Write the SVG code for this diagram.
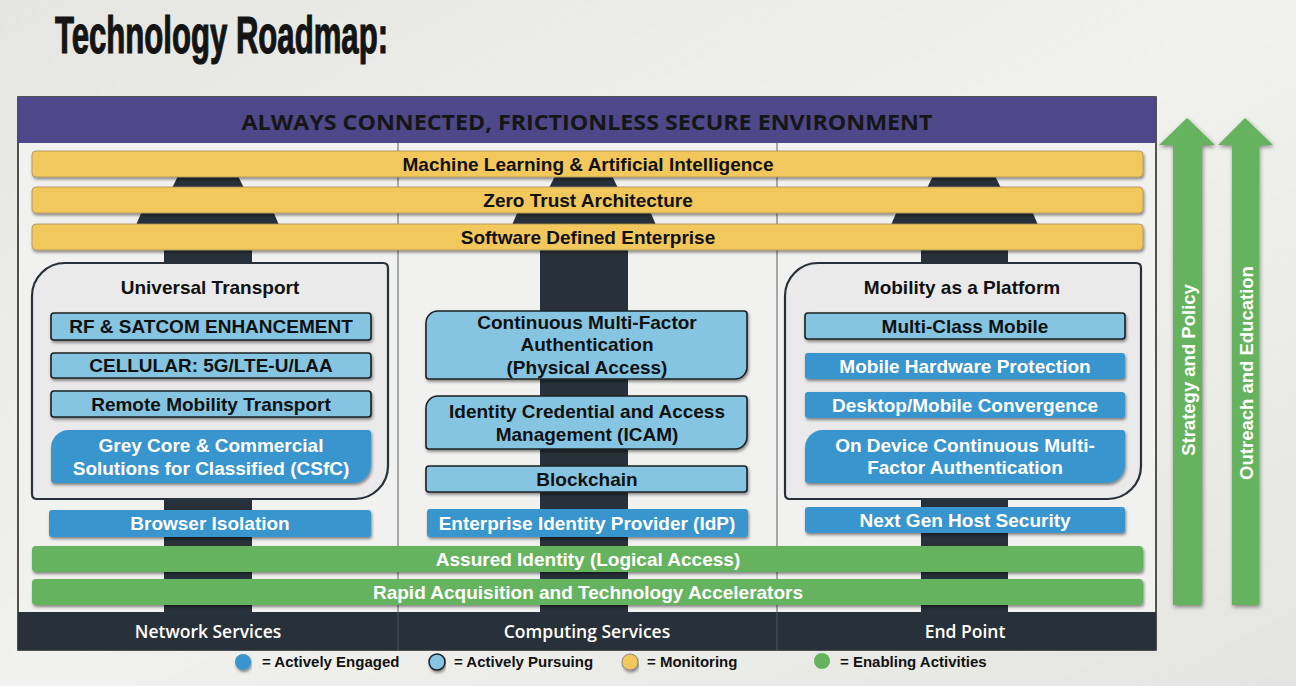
<svg xmlns="http://www.w3.org/2000/svg" width="1296" height="686" viewBox="0 0 1296 686">
<defs>
<linearGradient id="bg" x1="0" y1="0" x2="1" y2="1">
<stop offset="0" stop-color="#e5e6e2"/>
<stop offset="0.5" stop-color="#f1f1ee"/>
<stop offset="1" stop-color="#e4e4e0"/>
</linearGradient>
<filter id="sh" x="-5%" y="-20%" width="110%" height="150%">
<feDropShadow dx="1" dy="2" stdDeviation="1.5" flood-color="#000" flood-opacity="0.45"/>
</filter>
<filter id="sh2" x="-40%" y="-5%" width="180%" height="110%">
<feDropShadow dx="1" dy="2" stdDeviation="2" flood-color="#000" flood-opacity="0.45"/>
</filter>
<style>
.t{font-family:"Liberation Sans",Arial,sans-serif;font-weight:bold;text-anchor:middle;}
.k{fill:#111;font-size:19px;}
.w{fill:#fff;font-size:19px;}
.yel{fill:#f2c75b;stroke:#a8935a;stroke-width:0.8;filter:url(#sh);}
.grn{fill:#66b35e;filter:url(#sh);}
.lb{fill:#85c5e2;stroke:#1b1f22;stroke-width:1.6;filter:url(#sh);}
.db{fill:#3995cd;filter:url(#sh);}
.pil{fill:#283139;}
.pan{fill:#e9eae9;stroke:#283139;stroke-width:2.2;}
.os{font-family:"Open Sans","Liberation Sans",sans-serif;font-weight:600;text-anchor:middle;fill:#fff;font-size:17.5px;}
.lg{font-family:"Liberation Sans",Arial,sans-serif;font-weight:bold;font-size:15px;fill:#111;}
</style>
</defs>
<rect width="1296" height="686" fill="url(#bg)"/>
<text x="55" y="53" font-family="Liberation Sans, Arial, sans-serif" font-weight="bold" font-size="51" fill="#141414" stroke="#141414" stroke-width="1.2" textLength="333" lengthAdjust="spacingAndGlyphs">Technology Roadmap:</text>

<g id="frame">
<rect x="18" y="97" width="1138" height="553" fill="#f1f1ef" stroke="#1e1e1e" stroke-width="1.5"/>
<rect x="18" y="97" width="1138" height="46" fill="#4e4789"/>
<text x="587" y="130" font-family="Open Sans, Liberation Sans, sans-serif" font-weight="700" font-size="22" fill="#161616" text-anchor="middle" textLength="691" lengthAdjust="spacingAndGlyphs">ALWAYS CONNECTED, FRICTIONLESS SECURE ENVIRONMENT</text>
<line x1="398" y1="143" x2="398" y2="612" stroke="#5a5f63" stroke-width="1"/>
<line x1="777" y1="143" x2="777" y2="612" stroke="#5a5f63" stroke-width="1"/>
</g>

<g id="pillars">
<polygon class="pil" points="178,176 238,176 244,188 172,188"/>
<polygon class="pil" points="142,211 273,211 279,225 136,225"/>
<rect class="pil" x="164" y="248" width="88" height="364"/>
<polygon class="pil" points="555,176 612,176 618,188 549,188"/>
<polygon class="pil" points="518,211 650,211 656,225 512,225"/>
<rect class="pil" x="540" y="248" width="88" height="364"/>
<polygon class="pil" points="933,176 995,176 1001,188 927,188"/>
<polygon class="pil" points="897,211 1032,211 1038,225 891,225"/>
<rect class="pil" x="921" y="248" width="87" height="364"/>
</g>

<g id="ml"><rect class="yel" x="32" y="151" width="1111" height="26" rx="4"/><text class="t k" x="588" y="171">Machine Learning &amp; Artificial Intelligence</text></g>
<g id="zt"><rect class="yel" x="32" y="187" width="1111" height="26" rx="4"/><text class="t k" x="588" y="207">Zero Trust Architecture</text></g>
<g id="sde"><rect class="yel" x="32" y="224" width="1111" height="26" rx="4"/><text class="t k" x="588" y="244">Software Defined Enterprise</text></g>

<g id="universal-transport">
<path class="pan" d="M65,263 H383 Q388,263 388,268 V466 A33,33 0 0 1 355,499 H37 Q32,499 32,494 V296 A33,33 0 0 1 65,263 Z"/>
<text class="t k" x="210" y="294">Universal Transport</text>
</g>
<g id="rf"><rect class="lb" x="51" y="313" width="320" height="27" rx="3"/><text class="t k" x="211" y="333">RF &amp; SATCOM ENHANCEMENT</text></g>
<g id="cellular"><rect class="lb" x="51" y="353" width="320" height="25" rx="3"/><text class="t k" x="211" y="372">CELLULAR: 5G/LTE-U/LAA</text></g>
<g id="remote"><rect class="lb" x="51" y="391" width="320" height="26" rx="3"/><text class="t k" x="211" y="411">Remote Mobility Transport</text></g>
<g id="greycore"><path class="db" d="M69,430 H368 Q371,430 371,433 V465 A18,18 0 0 1 353,483 H54 Q51,483 51,480 V448 A18,18 0 0 1 69,430 Z"/><text class="t w" x="211" y="452">Grey Core &amp; Commercial</text><text class="t w" x="211" y="475">Solutions for Classified (CSfC)</text></g>
<g id="browser"><rect class="db" x="49" y="510" width="322" height="27" rx="3"/><text class="t w" x="210" y="530">Browser Isolation</text></g>

<g id="mfa"><path class="lb" d="M438,311 H744 Q747,311 747,314 V367 A12,12 0 0 1 735,379 H429 Q426,379 426,376 V323 A12,12 0 0 1 438,311 Z"/><text class="t k" x="587" y="329">Continuous Multi-Factor</text><text class="t k" x="587" y="351">Authentication</text><text class="t k" x="587" y="374">(Physical Access)</text></g>
<g id="icam"><path class="lb" d="M438,396 H744 Q747,396 747,399 V437 A12,12 0 0 1 735,449 H429 Q426,449 426,446 V408 A12,12 0 0 1 438,396 Z"/><text class="t k" x="587" y="418">Identity Credential and Access</text><text class="t k" x="587" y="441">Management (ICAM)</text></g>
<g id="blockchain"><rect class="lb" x="426" y="466" width="321" height="26" rx="3"/><text class="t k" x="587" y="486">Blockchain</text></g>
<g id="idp"><rect class="db" x="427" y="509" width="321" height="28" rx="3"/><text class="t w" x="587" y="530">Enterprise Identity Provider (IdP)</text></g>

<g id="mobility-platform">
<path class="pan" d="M818,263 H1136 Q1141,263 1141,268 V466 A33,33 0 0 1 1108,499 H790 Q785,499 785,494 V296 A33,33 0 0 1 818,263 Z"/>
<text class="t k" x="962" y="294">Mobility as a Platform</text>
</g>
<g id="multiclass"><rect class="lb" x="805" y="313" width="320" height="26" rx="3"/><text class="t k" x="965" y="333">Multi-Class Mobile</text></g>
<g id="mhp"><rect class="db" x="805" y="353" width="320" height="26" rx="3"/><text class="t w" x="965" y="373">Mobile Hardware Protection</text></g>
<g id="dmc"><rect class="db" x="805" y="392" width="320" height="26" rx="3"/><text class="t w" x="965" y="412">Desktop/Mobile Convergence</text></g>
<g id="ondevice"><path class="db" d="M823,430 H1122 Q1125,430 1125,433 V465 A18,18 0 0 1 1107,483 H808 Q805,483 805,480 V448 A18,18 0 0 1 823,430 Z"/><text class="t w" x="965" y="452">On Device Continuous Multi-</text><text class="t w" x="965" y="474">Factor Authentication</text></g>
<g id="nghs"><rect class="db" x="805" y="507" width="320" height="26" rx="3"/><text class="t w" x="965" y="527">Next Gen Host Security</text></g>

<g id="assured"><rect class="grn" x="32" y="546" width="1111" height="26" rx="4"/><text class="t w" x="588" y="566">Assured Identity (Logical Access)</text></g>
<g id="rapid"><rect class="grn" x="32" y="579" width="1111" height="26" rx="4"/><text class="t w" x="588" y="599">Rapid Acquisition and Technology Accelerators</text></g>

<g id="base">
<rect x="18" y="612" width="1138" height="38" fill="#283139"/>
<line x1="398" y1="612" x2="398" y2="650" stroke="#4c555c" stroke-width="1"/>
<line x1="777" y1="612" x2="777" y2="650" stroke="#4c555c" stroke-width="1"/>
<text class="os" x="208" y="638">Network Services</text>
<text class="os" x="587" y="638">Computing Services</text>
<text class="os" x="965" y="638">End Point</text>
</g>

<g id="arrow-strategy">
<polygon fill="#66b35e" filter="url(#sh2)" points="1187,118 1215,145 1202,145 1202,605 1173,605 1173,145 1159,145"/>
<text class="t" fill="#fff" font-size="18.5" transform="translate(1195,370) rotate(-90)">Strategy and Policy</text>
</g>
<g id="arrow-outreach">
<polygon fill="#66b35e" filter="url(#sh2)" points="1245,118 1273,145 1259,145 1259,605 1232,605 1232,145 1218,145"/>
<text class="t" fill="#fff" font-size="18.5" transform="translate(1253,373) rotate(-90)">Outreach and Education</text>
</g>

<g id="legend">
<circle cx="243" cy="662" r="8" fill="#3995cd" filter="url(#sh)"/>
<text class="lg" x="262" y="667">= Actively Engaged</text>
<circle cx="437" cy="662" r="8" fill="#85c5e2" stroke="#1b1f22" stroke-width="1.5" filter="url(#sh)"/>
<text class="lg" x="454" y="667">= Actively Pursuing</text>
<circle cx="630" cy="662" r="8" fill="#f2c75b" stroke="#8a8a86" stroke-width="1" filter="url(#sh)"/>
<text class="lg" x="647" y="667">= Monitoring</text>
<circle cx="822" cy="661" r="8" fill="#66b35e"/>
<text class="lg" x="840" y="667">= Enabling Activities</text>
</g>
</svg>
